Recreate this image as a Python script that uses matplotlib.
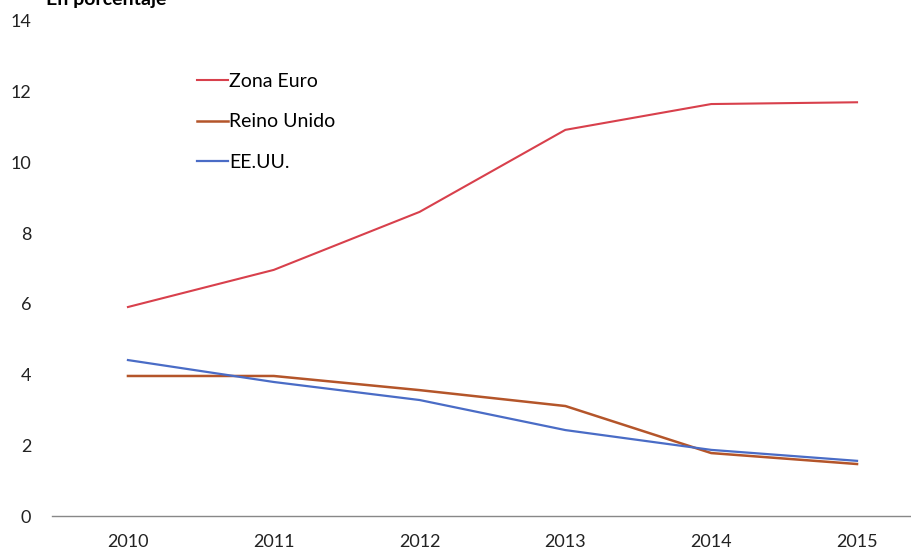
import matplotlib.pyplot as plt

years = [2010, 2011, 2012, 2013, 2014, 2015]
zona_euro = [5.91, 6.96, 8.60, 10.92, 11.65, 11.70]
reino_unido = [3.96, 3.96, 3.56, 3.11, 1.78, 1.47]
eeuu = [4.41, 3.79, 3.28, 2.43, 1.87, 1.56]

plt.rcParams['font.family'] = ['Lato', 'DejaVu Sans']

fig = plt.figure(figsize=(9.12, 5.51), dpi=100)
ax = fig.add_axes([0.057, 0.0635, 0.943, 0.8985])

ax.plot(years, zona_euro, color='#d8404c', lw=1.5, label='Zona Euro')
ax.plot(years, reino_unido, color='#b4552a', lw=1.8, label='Reino Unido')
ax.plot(years, eeuu, color='#4a6cc6', lw=1.6, label='EE.UU.')

ax.set_xlim(2009.479, 2015.377)
ax.set_ylim(0, 14)
ax.set_yticks(range(0, 15, 2))
ax.set_xticks(years)
ax.tick_params(length=0, labelsize=13, colors='#222222')
ax.tick_params(axis='x', pad=13)
ax.tick_params(axis='y', pad=15)
for s in ['top', 'right', 'left']:
    ax.spines[s].set_visible(False)
ax.spines['bottom'].set_color('#888888')
ax.spines['bottom'].set_linewidth(1)

# legend sits inside the plot, no frame
ax.legend(loc='upper left', bbox_to_anchor=(0.148, 0.93), frameon=False,
          fontsize=14, handlelength=1.6, handletextpad=0.05, labelspacing=1.2)

# title is cut off by the top edge in the original
fig.text(0.05, 1.0, 'En porcentaje', fontsize=14, fontweight='bold', va='center')

fig.savefig('out.png', dpi=100)
